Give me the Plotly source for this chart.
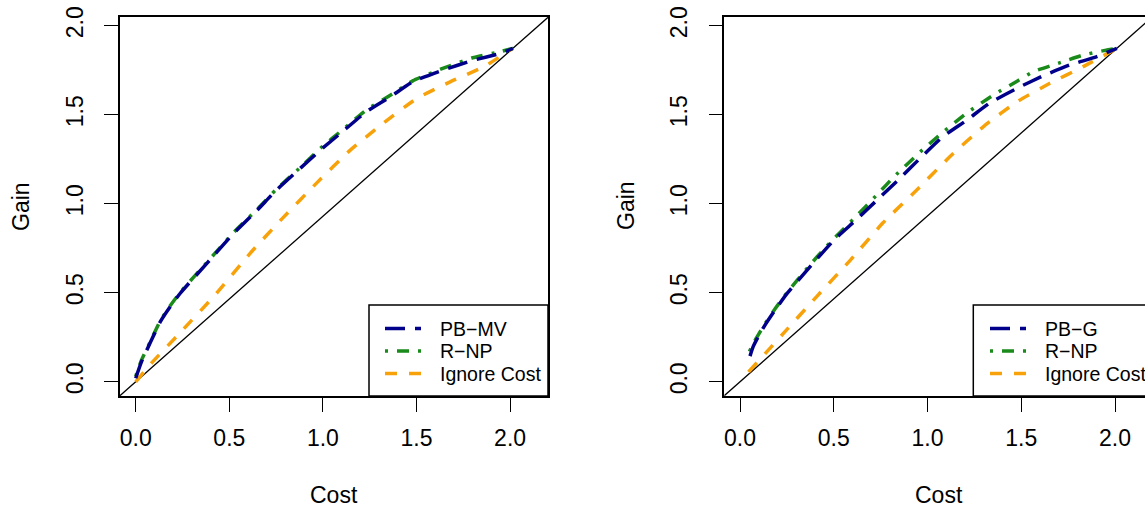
import plotly.graph_objects as go

# ---------------- data ----------------
# Left panel
left_pbmv_cost = [0.00, 0.03, 0.076, 0.13, 0.183, 0.24, 0.38, 0.52, 0.65, 0.75, 0.88, 0.985, 1.11, 1.23, 1.36, 1.48, 1.64, 1.80, 1.95, 2.015]
left_pbmv_gain = [0.02, 0.11, 0.216, 0.335, 0.42, 0.50, 0.665, 0.83, 0.965, 1.075, 1.20, 1.30, 1.41, 1.515, 1.60, 1.685, 1.75, 1.805, 1.845, 1.873]
left_rnp_cost = [0.00, 0.03, 0.076, 0.13, 0.183, 0.24, 0.38, 0.52, 0.65, 0.75, 0.88, 0.985, 1.11, 1.23, 1.36, 1.48, 1.64, 1.80, 1.95, 2.015]
left_rnp_gain = [0.03, 0.12, 0.222, 0.34, 0.425, 0.505, 0.67, 0.835, 0.97, 1.08, 1.205, 1.31, 1.42, 1.525, 1.61, 1.69, 1.76, 1.82, 1.855, 1.873]
left_ign_cost = [0.00, 0.08, 0.25, 0.43, 0.61, 0.79, 0.97, 1.145, 1.32, 1.50, 1.68, 1.86, 2.015]
left_ign_gain = [0.00, 0.10, 0.29, 0.495, 0.72, 0.925, 1.12, 1.30, 1.45, 1.59, 1.685, 1.77, 1.873]

# Right panel
right_pbg_cost = [0.053, 0.071, 0.098, 0.133, 0.187, 0.25, 0.36, 0.50, 0.62, 0.73, 0.85, 0.96, 1.08, 1.21, 1.33, 1.48, 1.62, 1.76, 1.90, 2.01]
right_pbg_gain = [0.144, 0.20, 0.255, 0.318, 0.403, 0.495, 0.63, 0.795, 0.91, 1.02, 1.14, 1.255, 1.375, 1.47, 1.565, 1.65, 1.72, 1.78, 1.825, 1.873]
right_rnp_cost = [0.05, 0.071, 0.098, 0.133, 0.187, 0.25, 0.36, 0.46, 0.62, 0.73, 0.82, 0.96, 1.08, 1.21, 1.35, 1.48, 1.56, 1.70, 1.83, 1.94, 2.01]
right_rnp_gain = [0.17, 0.215, 0.265, 0.325, 0.41, 0.50, 0.64, 0.76, 0.93, 1.05, 1.15, 1.29, 1.40, 1.51, 1.61, 1.69, 1.74, 1.79, 1.835, 1.86, 1.873]
right_ign_cost = [0.045, 0.23, 0.41, 0.59, 0.76, 0.94, 1.12, 1.30, 1.48, 1.65, 1.83, 2.01]
right_ign_gain = [0.055, 0.27, 0.48, 0.685, 0.89, 1.075, 1.265, 1.435, 1.575, 1.675, 1.77, 1.873]

tick_vals = [0.0, 0.5, 1.0, 1.5, 2.0]
tick_text = ["0.0", "0.5", "1.0", "1.5", "2.0"]
legend_left = ["PB\u2212MV", "R\u2212NP", "Ignore Cost"]
legend_right = ["PB\u2212G", "R\u2212NP", "Ignore Cost"]

x_range_left = [-0.084, 2.2025]
x_range_right = [-0.084, 2.16]
y_range = [-0.080, 2.049]

W, H = 1145, 508
FONT = "Liberation Sans, Arial, Helvetica, sans-serif"
BLUE = "#00008B"
GREEN = "#1A8B1A"
ORANGE = "#F7A20A"
COLORS = [BLUE, GREEN, ORANGE]
DASHES = ["20px,10px", "3px,9px,12px,9px", "12px,12px"]
LW = 3.5

fig = go.Figure()

def add_panel(xa, ya, names, c1, g1, c2, g2, c3, g3):
    # baseline through origin and the final point
    slope = g1[-1] / c1[-1]
    bx = [x_range_left[0], x_range_left[1]]
    fig.add_trace(go.Scatter(x=bx, y=[slope * v for v in bx], mode="lines",
                             line=dict(color="black", width=1.3), showlegend=False,
                             xaxis=xa, yaxis=ya, hoverinfo="skip"))
    for c, g, i in [(c3, g3, 2), (c2, g2, 1), (c1, g1, 0)]:
        fig.add_trace(go.Scatter(x=c, y=g, mode="lines", name=names[i], showlegend=False,
                                 line=dict(color=COLORS[i], width=LW, dash=DASHES[i],
                                           shape="spline", smoothing=0.5),
                                 xaxis=xa, yaxis=ya))

add_panel("x", "y", legend_left, left_pbmv_cost, left_pbmv_gain,
          left_rnp_cost, left_rnp_gain, left_ign_cost, left_ign_gain)
add_panel("x2", "y2", legend_right, right_pbg_cost, right_pbg_gain,
          right_rnp_cost, right_rnp_gain, right_ign_cost, right_ign_gain)

y_dom = [1 - 396 / H, 1 - 17 / H]
axis_common = dict(showgrid=False, zeroline=False, ticks="outside", ticklen=14, tickwidth=1.3,
                   tickcolor="black", tickvals=tick_vals, ticktext=tick_text,
                   tickfont=dict(family=FONT, size=23, color="black"),
                   linecolor="black", linewidth=1.5, showline=True, automargin=False)

fig.update_layout(
    width=W, height=H, margin=dict(l=0, r=0, t=0, b=0, autoexpand=False),
    paper_bgcolor="white", plot_bgcolor="white",
    font=dict(family=FONT, color="black"),
    xaxis=dict(domain=[120 / W, 548 / W], range=x_range_left, anchor="y", mirror=True,
               ticklabelstandoff=7, **axis_common),
    yaxis=dict(domain=y_dom, range=y_range, anchor="x", mirror=True, tickangle=-90,
               ticklabelstandoff=12, **axis_common),
    xaxis2=dict(domain=[724.3 / W, 1.0], range=x_range_right, anchor="y2", mirror=True,
                ticklabelstandoff=7, **axis_common),
    yaxis2=dict(domain=y_dom, range=y_range, anchor="x2", mirror=False, tickangle=-90,
                ticklabelstandoff=12, **axis_common),
    showlegend=False,
)

ann_font = dict(family=FONT, size=23, color="black")
for x_px, text in [(334, "Cost"), (939, "Cost")]:
    fig.add_annotation(text=text, x=x_px / W, y=1 - 495 / H, xref="paper", yref="paper",
                       showarrow=False, font=ann_font, xanchor="center", yanchor="middle")
for x_px, text in [(21, "Gain"), (626, "Gain")]:
    fig.add_annotation(text=text, x=x_px / W, y=1 - 206 / H, xref="paper", yref="paper",
                       showarrow=False, font=ann_font, textangle=-90, xanchor="center", yanchor="middle")

# legends (box, sample lines, labels)
leg_font = dict(family=FONT, size=19.5, color="black")
row_y = [328.5, 351, 373.5]
for box_left, box_right, sample_x0, text_x, names in [
        (369, 548, 385, 438, legend_left), (973.3, 1160, 990, 1043, legend_right)]:
    fig.add_shape(type="rect", xref="paper", yref="paper",
                  x0=box_left / W, x1=box_right / W, y0=1 - 396 / H, y1=1 - 305 / H,
                  line=dict(color="black", width=1.5), fillcolor="white", layer="above")
    for i, name in enumerate(names):
        fig.add_shape(type="line", xref="paper", yref="paper",
                      x0=sample_x0 / W, x1=(sample_x0 + 36) / W,
                      y0=1 - row_y[i] / H, y1=1 - row_y[i] / H,
                      line=dict(color=COLORS[i], width=LW, dash=DASHES[i]), layer="above")
        fig.add_annotation(text=name, x=text_x / W, y=1 - row_y[i] / H, xref="paper", yref="paper",
                           showarrow=False, font=leg_font, xanchor="left", yanchor="middle")

fig.write_html("out.html")
